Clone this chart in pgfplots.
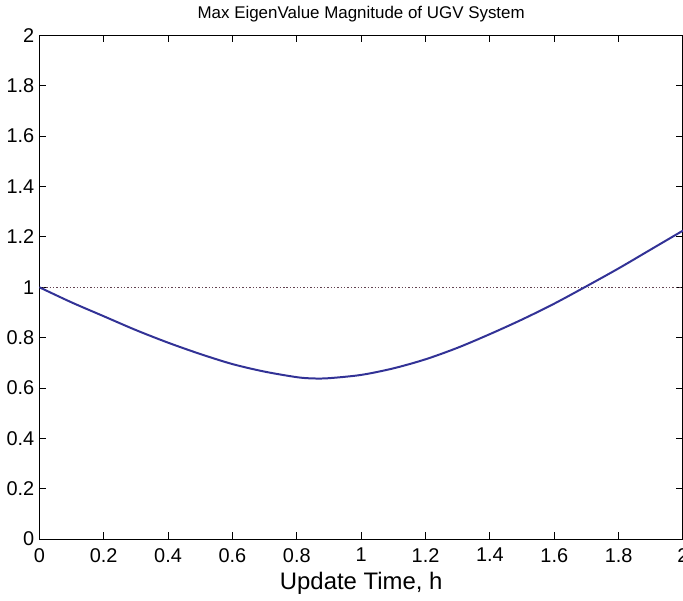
\documentclass[border=0pt]{standalone}
\usepackage{pgfplots}
\pgfplotsset{compat=1.18}
\usepackage{fontspec}
\setmainfont{Liberation Sans}
\definecolor{curveblue}{RGB}{50,50,150}
\begin{document}
\begin{tikzpicture}[trim axis right]
\begin{axis}[
  scale only axis,
  width=322bp, height=252bp,
  xmin=0, xmax=2, ymin=0, ymax=2,
  xtick={0,0.2,...,2}, ytick={0,0.2,...,2},
  xticklabels={0,0.2,0.4,0.6,0.8,1,1.2,1.4,1.6,1.8,2},
  yticklabels={0,0.2,0.4,0.6,0.8,1,1.2,1.4,1.6,1.8,2},
  tick align=inside,
  major tick length=3.5bp,
  tick style={black, line width=0.5pt},
  axis line style={black, line width=0.6pt},
  ticklabel style={font=\fontsize{10}{12}\selectfont, text=black},
  xticklabel style={yshift=-1bp},
  yticklabel style={xshift=1bp},
  title={Max EigenValue Magnitude of UGV System},
  title style={font=\fontsize{8.5}{10}\selectfont, yshift=-3bp},
  xlabel={Update Time, h},
  xlabel style={font=\fontsize{12}{14}\selectfont, yshift=2bp},
  /pgf/number format/assume math mode=true,
]
\addplot[densely dotted, color=black!70!magenta, line width=0.7pt] coordinates {(0,1) (2,1)};
\addplot[curveblue, line width=1pt, smooth] coordinates {
(0,1.000) (0.1,0.940) (0.2,0.885) (0.3,0.830) (0.4,0.780) (0.5,0.735)
(0.6,0.695) (0.7,0.665) (0.8,0.643) (0.85,0.638) (0.9,0.639) (1.0,0.652)
(1.1,0.678) (1.2,0.714) (1.3,0.760) (1.4,0.814) (1.5,0.872) (1.6,0.935)
(1.7,1.004) (1.8,1.075) (1.9,1.150) (2.0,1.225)
};
\end{axis}
\end{tikzpicture}
\end{document}
